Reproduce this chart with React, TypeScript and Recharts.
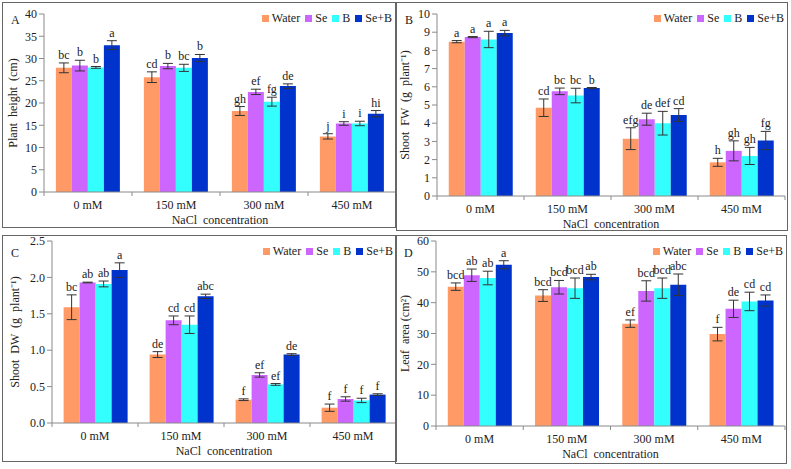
import { BarChart, Bar, XAxis, YAxis, ErrorBar, LabelList, Legend } from "recharts";

const categories = ["0 mM", "150 mM", "300 mM", "450 mM"];
const treatments = ["Water", "Se", "B", "Se+B"];
const colors = ["#FF9A66", "#CC66FF", "#33FFFF", "#0033CC"];

// rows: Water, Se, B, Se+B ; columns: 0, 150, 300, 450 mM
const heightMean = [
  [27.9, 25.8, 18.2, 12.5],
  [28.4, 28.3, 22.5, 15.4],
  [28.0, 27.9, 20.3, 15.4],
  [33.0, 30.1, 23.8, 17.6],
];
const heightErr = [
  [1.1, 1.2, 1.0, 0.6],
  [1.2, 0.6, 0.6, 0.4],
  [0.2, 0.8, 1.0, 0.5],
  [1.0, 0.8, 0.5, 0.7],
];
const heightLetters = [
  ["bc", "cd", "gh", "j"],
  ["b", "b", "ef", "i"],
  ["b", "bc", "fg", "i"],
  ["a", "b", "de", "hi"],
];

const fwMean = [
  [8.48, 4.85, 3.15, 1.85],
  [8.73, 5.75, 4.22, 2.48],
  [8.6, 5.52, 4.0, 2.2],
  [8.95, 5.93, 4.45, 3.05],
];
const fwErr = [
  [0.06, 0.48, 0.6, 0.22],
  [0.03, 0.18, 0.33, 0.55],
  [0.45, 0.4, 0.65, 0.47],
  [0.15, 0.03, 0.35, 0.5],
];
const fwLetters = [
  ["a", "cd", "efg", "h"],
  ["a", "bc", "de", "gh"],
  ["a", "bc", "def", "gh"],
  ["a", "b", "cd", "fg"],
];

const dwMean = [
  [1.59, 0.94, 0.32, 0.21],
  [1.93, 1.41, 0.66, 0.33],
  [1.91, 1.35, 0.53, 0.31],
  [2.1, 1.74, 0.94, 0.39],
];
const dwErr = [
  [0.17, 0.04, 0.012, 0.05],
  [0.005, 0.06, 0.03, 0.03],
  [0.04, 0.12, 0.012, 0.03],
  [0.1, 0.03, 0.012, 0.012],
];
const dwLetters = [
  ["bc", "de", "f", "f"],
  ["ab", "cd", "ef", "f"],
  ["ab", "cd", "ef", "f"],
  ["a", "abc", "de", "f"],
];

const areaMean = [
  [45.2, 42.3, 33.2, 29.8],
  [48.9, 45.0, 43.8, 38.0],
  [48.0, 44.7, 44.7, 40.4],
  [52.3, 48.3, 45.8, 40.7],
];
const areaErr = [
  [1.2, 1.9, 1.2, 2.2],
  [2.0, 2.2, 3.3, 2.8],
  [2.2, 3.3, 3.3, 3.0],
  [1.3, 0.9, 3.5, 1.8],
];
const areaLetters = [
  ["bcd", "bcd", "ef", "f"],
  ["ab", "bcd", "bcd", "de"],
  ["ab", "bcd", "bcd", "cd"],
  ["a", "ab", "abc", "cd"],
];

const heightTicks = [0, 5, 10, 15, 20, 25, 30, 35, 40];
const fwTicks = [0, 1, 2, 3, 4, 5, 6, 7, 8, 9, 10];
const dwTicks = [0, 0.5, 1.0, 1.5, 2.0, 2.5];
const areaTicks = [0, 10, 20, 30, 40, 50, 60];

const FONT = "'Liberation Serif', 'Times New Roman', serif";
const AXIS = "#8a8a8a";
const TEXT = "#222";

type Box = { x: number; y: number; w: number; h: number };
type Plot = { left: number; top: number; right: number; bottom: number };

interface PanelProps {
  letter: string;
  yLabel: string;
  yLabelX: number;
  mean: number[][];
  err: number[][];
  letters: string[][];
  ticks: number[];
  decimals: number;
  box: Box;
  plot: Plot;
}

function LegendRow() {
  return (
    <div
      style={{
        display: "flex",
        justifyContent: "flex-end",
        alignItems: "center",
        fontFamily: FONT,
        fontSize: 12,
        color: TEXT,
        whiteSpace: "nowrap",
      }}
    >
      {treatments.map((t, i) => (
        <span key={t} style={{ display: "flex", alignItems: "center", marginLeft: i ? 5 : 0 }}>
          <span
            style={{ display: "inline-block", width: 7, height: 7, background: colors[i], marginRight: 3 }}
          />
          {t}
        </span>
      ))}
    </div>
  );
}

function Panel({ letter, yLabel, yLabelX, mean, err, letters, ticks, decimals, box, plot }: PanelProps) {
  const data = categories.map((cat, i) => {
    const row: Record<string, any> = { cat };
    treatments.forEach((_, s) => {
      row["m" + s] = mean[s][i];
      row["e" + s] = err[s][i];
      row["l" + s] = letters[s][i];
    });
    return row;
  });

  const yAxisW = plot.left - box.x;
  const xAxisH = box.y + box.h - plot.bottom;
  const band = (plot.right - plot.left) / categories.length;

  const XTick = (p: any) => {
    const { x, y, payload, index } = p;
    const bx = x - band / 2;
    return (
      <g>
        <line x1={bx} x2={bx} y1={y} y2={y + 4} stroke={AXIS} />
        {index === categories.length - 1 && (
          <line x1={x + band / 2} x2={x + band / 2} y1={y} y2={y + 4} stroke={AXIS} />
        )}
        <text x={x} y={y + 17} textAnchor="middle" fontFamily={FONT} fontSize={12} fill={TEXT}>
          {payload.value}
        </text>
      </g>
    );
  };

  const letterLabel = (s: number) => (p: any) => {
    const { x, y, width, height, index } = p;
    const row = data[index];
    const m = row["m" + s];
    const e = row["e" + s];
    const pxPer = Number(height) / m;
    const ty = Number(y) - e * pxPer - 4;
    return (
      <text
        key={`lt-${s}-${index}`}
        x={Number(x) + Number(width) / 2}
        y={ty}
        textAnchor="middle"
        fontFamily={FONT}
        fontSize={12}
        fill={TEXT}
      >
        {row["l" + s]}
      </text>
    );
  };

  return (
    <div style={{ position: "absolute", left: box.x, top: box.y, width: box.w, height: box.h }}>
      <BarChart
        width={box.w}
        height={box.h}
        data={data}
        margin={{ top: plot.top - box.y, right: box.x + box.w - plot.right, left: 0, bottom: 0 }}
        barGap={0}
        barCategoryGap="13.5%"
      >
        <XAxis
          dataKey="cat"
          height={xAxisH}
          stroke={AXIS}
          tickLine={false}
          tickSize={0}
          tickMargin={0}
          tick={XTick}
          interval={0}
          label={{
            content: (lp: any) => {
              const vb = lp.viewBox;
              return (
                <text
                  x={vb.x + vb.width / 2}
                  y={vb.y + 32}
                  textAnchor="middle"
                  fontFamily={FONT}
                  fontSize={12}
                  fill={TEXT}
                  style={{ whiteSpace: "pre" }}
                >
                  {"NaCl  concentration"}
                </text>
              );
            },
          }}
        />
        <YAxis
          width={yAxisW}
          domain={[ticks[0], ticks[ticks.length - 1]]}
          ticks={ticks}
          interval={0}
          stroke={AXIS}
          tickSize={5}
          tickMargin={2}
          tick={{ fontFamily: FONT, fontSize: 12, fill: TEXT }}
          tickFormatter={(v: number) => v.toFixed(decimals)}
          label={{
            content: (lp: any) => {
              const vb = lp.viewBox;
              const cy = vb.y + vb.height / 2;
              return (
                <text
                  x={yLabelX}
                  y={cy}
                  transform={`rotate(-90 ${yLabelX} ${cy})`}
                  textAnchor="middle"
                  dominantBaseline="central"
                  fontFamily={FONT}
                  fontSize={12}
                  fill={TEXT}
                  style={{ whiteSpace: "pre" }}
                >
                  {yLabel}
                </text>
              );
            },
          }}
        />
        <Legend
          layout="horizontal"
          verticalAlign="middle"
          align="center"
          wrapperStyle={{ top: 9, right: 4, left: "auto", width: 200, height: 14 }}
          content={() => <LegendRow />}
        />
        {treatments.map((t, s) => (
          <Bar key={t} dataKey={"m" + s} name={t} fill={colors[s]} isAnimationActive={false}>
            <ErrorBar dataKey={"e" + s} width={5} stroke="#333" strokeWidth={1} />
            <LabelList dataKey={"l" + s} content={letterLabel(s)} />
          </Bar>
        ))}
      </BarChart>
      <div
        style={{
          position: "absolute",
          left: 9,
          top: 11,
          fontFamily: FONT,
          fontSize: 12,
          color: TEXT,
        }}
      >
        {letter}
      </div>
      <div
        style={{
          position: "absolute",
          inset: 0,
          border: "1px solid #666",
          pointerEvents: "none",
        }}
      />
    </div>
  );
}

export default function App() {
  return (
    <div
      style={{
        position: "absolute",
        left: 0,
        top: 0,
        width: 791,
        height: 469,
        background: "#fff",
        overflow: "hidden",
      }}
    >
      <Panel
        letter="A"
        yLabel="Plant  height  (cm)"
        yLabelX={11}
        mean={heightMean}
        err={heightErr}
        letters={heightLetters}
        ticks={heightTicks}
        decimals={0}
        box={{ x: 2, y: 2, w: 394, h: 226 }}
        plot={{ left: 44, top: 14, right: 396, bottom: 192 }}
      />
      <Panel
        letter="B"
        yLabel="Shoot  FW  (g  plant⁻¹)"
        yLabelX={9}
        mean={fwMean}
        err={fwErr}
        letters={fwLetters}
        ticks={fwTicks}
        decimals={0}
        box={{ x: 396, y: 2, w: 392, h: 229 }}
        plot={{ left: 437, top: 14, right: 785, bottom: 196 }}
      />
      <Panel
        letter="C"
        yLabel="Shoot  DW  (g  plant⁻¹)"
        yLabelX={13}
        mean={dwMean}
        err={dwErr}
        letters={dwLetters}
        ticks={dwTicks}
        decimals={1}
        box={{ x: 2, y: 235, w: 395, h: 227 }}
        plot={{ left: 52, top: 241, right: 396, bottom: 423 }}
      />
      <Panel
        letter="D"
        yLabel="Leaf  area (cm²)"
        yLabelX={10}
        mean={areaMean}
        err={areaErr}
        letters={areaLetters}
        ticks={areaTicks}
        decimals={0}
        box={{ x: 395, y: 235, w: 392, h: 229 }}
        plot={{ left: 436, top: 241, right: 785, bottom: 426 }}
      />
    </div>
  );
}
